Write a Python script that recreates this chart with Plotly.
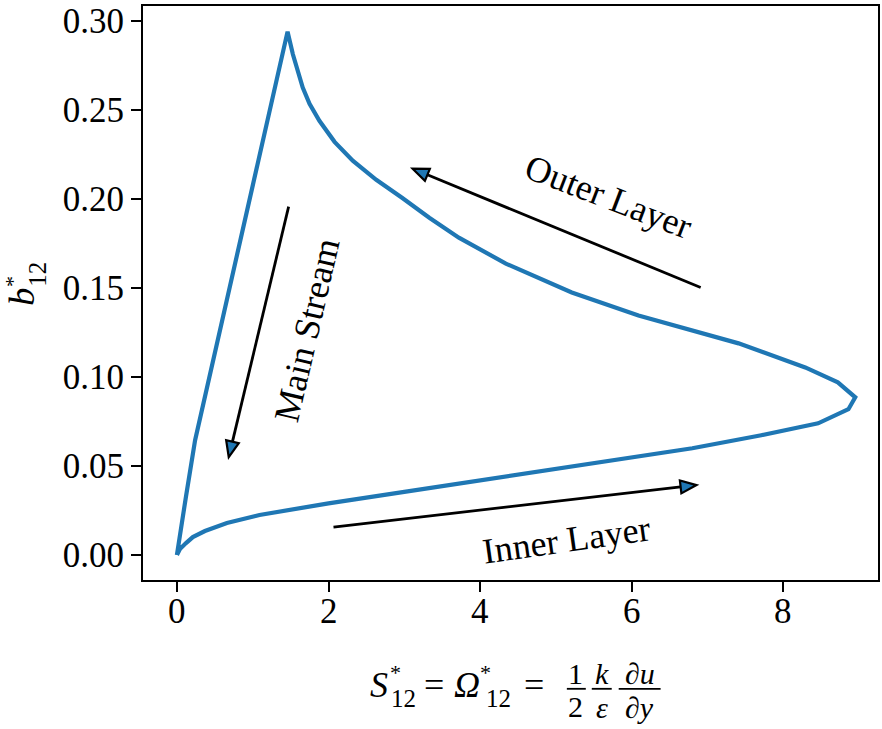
import math
import plotly.graph_objects as go

# Anisotropy b12* against the shear-rate invariant S12* through the boundary layer:
# wall -> inner layer -> outer peak of S -> outer layer -> main stream -> back to zero
s12 = [0.0, 0.04, 0.12, 0.21, 0.37, 0.66, 1.09, 1.5, 2.0, 3.0, 4.0, 5.0, 6.0, 6.8, 7.71,
       8.46, 8.86, 8.95,
       8.72, 8.29, 7.41, 6.75, 6.09, 5.21, 4.34, 3.72, 3.33, 2.97, 2.63, 2.32, 2.08, 1.88,
       1.75, 1.66, 1.53, 1.46,
       1.29, 1.11, 0.925, 0.74, 0.55, 0.38, 0.24, 0.12, 0.0]
b12 = [0.0, 0.0034, 0.0067, 0.0101, 0.0135, 0.018, 0.0225, 0.0256, 0.029, 0.0355, 0.042,
       0.0485, 0.055, 0.060, 0.0673, 0.074, 0.0819, 0.0886,
       0.097, 0.1054, 0.1189, 0.1267, 0.1346, 0.1475, 0.1637, 0.1783, 0.1895, 0.2007, 0.2108,
       0.2215, 0.2321, 0.2439, 0.2535, 0.2626, 0.2813, 0.294,
       0.262, 0.228, 0.193, 0.158, 0.122, 0.090, 0.0645, 0.033, 0.0]

# direction arrows (tail -> head) and their labels
arrow_tail_x = [6.91, 1.474, 2.066]
arrow_tail_y = [0.1503, 0.1957, 0.0157]
arrow_head_x = [3.11, 0.684, 6.855]
arrow_head_y = [0.2170, 0.0550, 0.0393]
label_text = ["Outer Layer", "Main Stream", "Inner Layer"]
label_x = [5.70, 1.72, 5.14]
label_y = [0.2010, 0.1262, 0.0084]
label_angle = [21, -77, -8]

x_ticks = [0, 2, 4, 6, 8]
y_ticks = [0.00, 0.05, 0.10, 0.15, 0.20, 0.25, 0.30]

W, H = 882, 729
ML, MR, MT, MB = 143, 2, 5, 149
XR = [-0.4474, 9.25]
YR = [-0.01402, 0.3084]
PW, PH = W - ML - MR, H - MT - MB
kx = PW / (XR[1] - XR[0])
ky = PH / (YR[1] - YR[0])

BLUE = "#1f77b4"
FONT = "Liberation Serif"
FS = 35

fig = go.Figure()
fig.add_trace(go.Scatter(x=s12, y=b12, mode="lines",
                         line=dict(color=BLUE, width=4.2), hoverinfo="skip",
                         showlegend=False))

shapes = []
annotations = []

# arrows: black shaft, blue triangular head with black edge
HL, HW = 16.0, 13.0
for tx, ty, hx, hy in zip(arrow_tail_x, arrow_tail_y, arrow_head_x, arrow_head_y):
    dxp = (hx - tx) * kx
    dyp = (hy - ty) * ky
    n = math.hypot(dxp, dyp)
    ux, uy = dxp / n, dyp / n
    px_, py_ = -uy, ux
    bx = hx - HL * ux / kx
    by = hy - HL * uy / ky
    fig.add_trace(go.Scatter(x=[tx, bx], y=[ty, by], mode="lines",
                             line=dict(color="black", width=2.8),
                             hoverinfo="skip", showlegend=False))
    c1 = (bx + HW / 2 * px_ / kx, by + HW / 2 * py_ / ky)
    c2 = (bx - HW / 2 * px_ / kx, by - HW / 2 * py_ / ky)
    path = f"M {hx},{hy} L {c1[0]},{c1[1]} L {c2[0]},{c2[1]} Z"
    shapes.append(dict(type="path", xref="x", yref="y", path=path,
                       fillcolor=BLUE, line=dict(color="black", width=2.2), layer="above"))

for t, x, y, a in zip(label_text, label_x, label_y, label_angle):
    annotations.append(dict(x=x, y=y, xref="x", yref="y", text=t, showarrow=False,
                            textangle=a, font=dict(family=FONT, size=36, color="black"),
                            xanchor="center", yanchor="middle"))

# x tick labels, set a little closer to the axis than the default spacing
for v in x_ticks:
    annotations.append(dict(x=v, y=-32 / PH, xref="x", yref="paper", text=str(v),
                            showarrow=False, font=dict(family=FONT, size=FS, color="black"),
                            xanchor="center", yanchor="middle"))


def pxtext(txt, px, py, size=FS, angle=0):
    annotations.append(dict(x=(px - ML) / PW, y=(H - MB - py) / PH, xref="paper", yref="paper",
                            text=txt, showarrow=False, textangle=angle,
                            font=dict(family=FONT, size=size, color="black"),
                            xanchor="center", yanchor="middle"))


def pxbar(x0, x1, py):
    yy = (H - MB - py) / PH
    shapes.append(dict(type="line", xref="paper", yref="paper",
                       x0=(x0 - ML) / PW, x1=(x1 - ML) / PW, y0=yy, y1=yy,
                       line=dict(color="black", width=1.8)))


# x-axis title: S*12 = Ω*12 = (1/2)(k/ε)(∂u/∂y)
pxtext("<i>S</i>", 380, 685, 36)
pxtext("*", 396, 673, 22)
pxtext("12", 404, 699, 25)
pxtext("=", 435, 685, 36)
pxtext("<i>Ω</i>", 468, 685, 36)
pxtext("*", 486, 673, 22)
pxtext("12", 499, 699, 25)
pxtext("=", 535, 685, 36)
pxbar(568, 587, 689)
pxtext("1", 577, 674, 30)
pxtext("2", 577, 707, 30)
pxbar(593, 613, 689)
pxtext("<i>k</i>", 603, 674, 30)
pxtext("<i>ε</i>", 603, 708, 30)
pxbar(620, 662, 689)
pxtext("∂<i>u</i>", 641, 674, 30)
pxtext("∂<i>y</i>", 641, 708, 30)

# y-axis title: b*12
pxtext("<i>b</i>", 22, 296, 36, -90)
pxtext("*", 12, 281, 22, -90)
pxtext("12", 37, 274, 25, -90)

axis_common = dict(showline=True, linecolor="black", linewidth=2.2, mirror=True,
                   ticks="outside", ticklen=10, tickwidth=2.2, tickcolor="black",
                   showgrid=False, zeroline=False,
                   tickfont=dict(family=FONT, size=FS, color="black"))

fig.update_layout(
    width=W, height=H,
    margin=dict(l=ML, r=MR, t=MT, b=MB),
    paper_bgcolor="white", plot_bgcolor="white",
    xaxis=dict(range=XR, tickvals=x_ticks, showticklabels=False, **axis_common),
    yaxis=dict(range=YR, tickvals=y_ticks, ticktext=[f"{v:.2f}" for v in y_ticks],
               **axis_common),
    shapes=shapes, annotations=annotations,
)

fig.write_html("out.html")
